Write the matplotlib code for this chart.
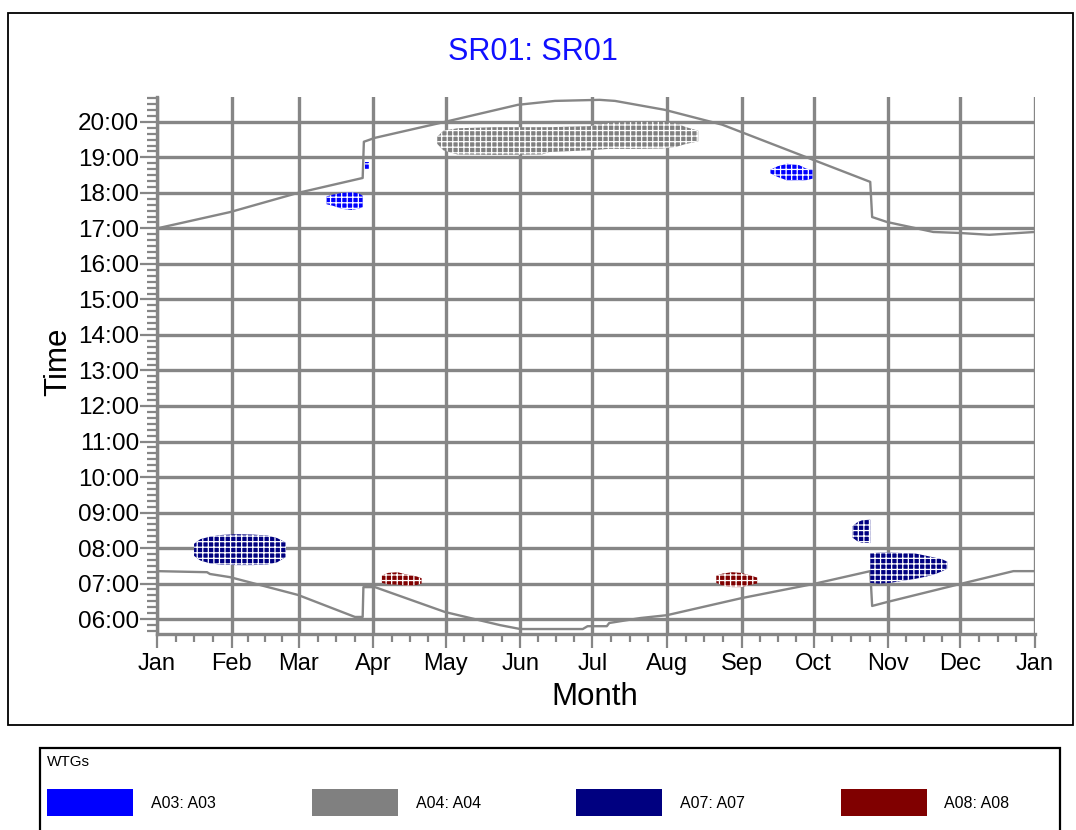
import matplotlib.pyplot as plt
from matplotlib.patches import Rectangle
from matplotlib.ticker import FixedLocator

plt.rcParams['font.family'] = ['Liberation Sans', 'DejaVu Sans']
plt.rcParams['hatch.linewidth'] = 0.9
plt.rcParams['hatch.color'] = 'white'

# calendar axis: day of year at the start of each month
month_days = [0, 31, 59, 90, 120, 151, 181, 212, 243, 273, 304, 334, 365]
month_labels = ['Jan', 'Feb', 'Mar', 'Apr', 'May', 'Jun', 'Jul',
                'Aug', 'Sep', 'Oct', 'Nov', 'Dec', 'Jan']
hour_ticks = list(range(6, 21))

# sunset / sunrise (decimal hours), with the DST steps in spring and autumn
sunset_days = [0, 30.4, 58.6, 85.5, 86, 90.6, 119.7, 150, 165.5, 184, 190.4,
               211, 235, 272.8, 296.5, 297.3, 303.5, 322.7, 334, 346, 365]
sunset_hours = [17.0, 17.46, 18.0, 18.42, 19.44, 19.55, 20.0, 20.48, 20.59, 20.62,
                20.59, 20.34, 19.92, 18.93, 18.31, 17.32, 17.18, 16.9, 16.87, 16.82, 16.9]

sunrise_days = [0, 20.8, 22, 30.4, 58.6, 82.3, 85.5, 85.8, 90.6, 119.7, 137, 142.6,
                151, 177, 179, 187, 188, 201, 212, 243, 273, 296.5, 297.3, 303.5,
                334, 356, 365]
sunrise_hours = [7.35, 7.32, 7.27, 7.18, 6.68, 6.06, 6.06, 6.90, 6.90, 6.2, 5.92, 5.83,
                 5.72, 5.72, 5.80, 5.80, 5.89, 6.03, 6.11, 6.59, 6.99, 7.35, 6.37, 6.48,
                 6.99, 7.35, 7.35]

# shadow flicker periods: (day, start hour, end hour)
a03_mar = [(70.5, 17.68, 17.90), (73, 17.64, 17.95), (77, 17.55, 18.0),
           (81, 17.52, 18.02), (84, 17.56, 17.98), (85.5, 17.60, 17.92)]
a03_mar_dst = [(86.5, 18.66, 18.86), (88, 18.66, 18.86)]
a03_sep = [(255, 18.55, 18.65), (258, 18.45, 18.75), (262, 18.35, 18.82),
           (267, 18.34, 18.78), (270, 18.36, 18.68), (272.5, 18.40, 18.65)]
a04_summer = [(116.5, 19.38, 19.58), (119, 19.20, 19.75), (125, 19.08, 19.82),
              (140, 19.07, 19.85), (160, 19.08, 19.85), (163, 19.15, 19.85),
              (180, 19.20, 19.88), (188, 19.24, 19.97), (200, 19.24, 20.0),
              (210, 19.25, 20.0), (216, 19.30, 19.95), (220, 19.38, 19.85),
              (225, 19.45, 19.75)]
a07_feb = [(15.4, 7.78, 8.12), (18, 7.65, 8.25), (22, 7.57, 8.32), (27, 7.53, 8.37),
           (33, 7.52, 8.39), (40, 7.52, 8.38), (46, 7.54, 8.35), (50, 7.60, 8.28),
           (53.6, 7.75, 8.15)]
a07_oct = [(289, 8.30, 8.60), (291, 8.20, 8.72), (293, 8.15, 8.78), (296.5, 8.14, 8.80)]
a07_nov = [(296.5, 7.02, 7.85), (300, 7.0, 7.87), (305, 7.02, 7.87), (310, 7.08, 7.86),
           (315, 7.13, 7.85), (320, 7.20, 7.78), (324, 7.28, 7.72), (326.5, 7.35, 7.68),
           (328.5, 7.42, 7.62)]
a08_apr = [(93.5, 7.02, 7.22), (96, 6.98, 7.30), (100, 6.97, 7.32), (104, 6.94, 7.25),
           (108, 6.96, 7.20), (110, 7.0, 7.15)]
a08_sep = [(232.5, 7.02, 7.22), (235, 6.95, 7.28), (239, 6.90, 7.32), (243, 6.90, 7.30),
           (247, 6.97, 7.22), (249.5, 7.0, 7.17)]

wtg_names = ['A03: A03', 'A04: A04', 'A07: A07', 'A08: A08']
wtg_colors = ['#0000ff', '#808080', '#000080', '#800000']

grid_grey = '#868686'

fig = plt.figure(figsize=(10.76, 8.30), dpi=100)
ax = fig.add_axes([157 / 1076, 1 - 634 / 830, 878 / 1076, 537 / 830])


def draw_flicker(rows, color):
    days = [r[0] for r in rows]
    start = [r[1] for r in rows]
    end = [r[2] for r in rows]
    ax.fill_between(days, start, end, facecolor=color, edgecolor='white',
                    hatch='+++', linewidth=0, zorder=3)


ax.plot(sunset_days, sunset_hours, color=grid_grey, lw=1.7, zorder=2)
ax.plot(sunrise_days, sunrise_hours, color=grid_grey, lw=1.7, zorder=2)

draw_flicker(a03_mar, wtg_colors[0])
draw_flicker(a03_mar_dst, wtg_colors[0])
draw_flicker(a03_sep, wtg_colors[0])
draw_flicker(a04_summer, wtg_colors[1])
draw_flicker(a07_feb, wtg_colors[2])
draw_flicker(a07_oct, wtg_colors[2])
draw_flicker(a07_nov, wtg_colors[2])
draw_flicker(a08_apr, wtg_colors[3])
draw_flicker(a08_sep, wtg_colors[3])

ax.set_xlim(0, 365)
ax.set_ylim(5.58, 20.70)

ax.set_xticks(month_days)
ax.set_xticklabels(month_labels)
minor_x = []
for a, b in zip(month_days[:-1], month_days[1:]):
    minor_x += [a + (b - a) * k / 4 for k in (1, 2, 3)]
ax.xaxis.set_minor_locator(FixedLocator(minor_x))

ax.set_yticks(hour_ticks)
ax.set_yticklabels([f'{h:02d}:00' for h in hour_ticks])
ax.yaxis.set_minor_locator(FixedLocator([5.6667, 5.8333] + [h + m / 6 for h in hour_ticks for m in range(1, 6)]))

ax.grid(True, which='major', color=grid_grey, lw=2.4)
ax.set_axisbelow(True)

ax.tick_params(axis='both', which='both', color=grid_grey, width=1.6,
               direction='out')
ax.tick_params(axis='y', which='major', length=12, pad=1, labelsize=17.5)
ax.tick_params(axis='y', which='minor', length=7)
ax.tick_params(axis='x', which='major', length=10, pad=4, labelsize=17)
ax.tick_params(axis='x', which='minor', length=6)

for side in ('top', 'right'):
    ax.spines[side].set_visible(False)
for side in ('left', 'bottom'):
    ax.spines[side].set_color(grid_grey)
    ax.spines[side].set_linewidth(2.4)

fig.text(533 / 1076, 1 - 52 / 830, 'SR01: SR01', color='#1010ff', fontsize=22,
         ha='center', va='center')
fig.text(595 / 1076, 1 - 697 / 830, 'Month', fontsize=22.5, ha='center', va='center')
fig.text(58 / 1076, 1 - 362 / 830, 'Time', fontsize=22.5, ha='center', va='center',
         rotation=90)

# chart frame and legend box
fig.add_artist(Rectangle((8 / 1076, 1 - 725 / 830), 1065 / 1076, 712 / 830,
                         transform=fig.transFigure, fill=False, ec='black', lw=1.3))
fig.add_artist(Rectangle((40 / 1076, 1 - 840 / 830), 1020 / 1076, 92 / 830,
                         transform=fig.transFigure, fill=False, ec='black', lw=1.6))
fig.text(47 / 1076, 1 - 762 / 830, 'WTGs', fontsize=11, ha='left', va='center')
for i, (name, col) in enumerate(zip(wtg_names, wtg_colors)):
    x0 = 47 + i * 264.5
    fig.add_artist(Rectangle((x0 / 1076, 1 - 816 / 830), 86 / 1076, 27 / 830,
                             transform=fig.transFigure, fc=col, ec='none'))
    fig.text((x0 + 104) / 1076, 1 - 803 / 830, name, fontsize=11.5, ha='left',
             va='center')

fig.savefig('out.png', dpi=100)
